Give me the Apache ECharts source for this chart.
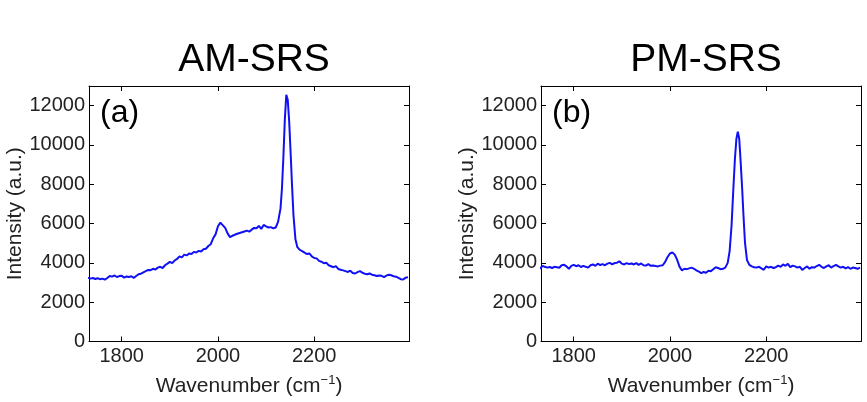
<!DOCTYPE html>
<html>
<head>
<meta charset="utf-8">
<script src="https://cdn.jsdelivr.net/npm/echarts@6/dist/echarts.min.js"></script>
<style>
html, body { margin: 0; padding: 0; background: #fff; }
#chart { width: 867px; height: 402px; }
</style>
</head>
<body>
<div id="chart"></div>
<script>
var panelTitles = ['AM-SRS', 'PM-SRS'];
var panelLetters = ['(a)', '(b)'];
var xTicks = [1800, 2000, 2200];

// [wavenumber, intensity]
var amSpectrum = [
    [1730, 3250], [1735, 3200], [1740, 3230], [1745, 3180], [1750, 3220], [1755, 3170], [1760, 3200],
    [1765, 3150], [1770, 3230], [1775, 3330], [1780, 3300], [1785, 3360], [1790, 3280], [1795, 3330],
    [1800, 3350], [1805, 3250], [1810, 3310], [1815, 3280], [1820, 3320], [1825, 3240], [1830, 3330],
    [1835, 3420], [1840, 3450], [1845, 3520], [1850, 3580], [1855, 3640], [1860, 3630], [1865, 3700],
    [1870, 3660], [1875, 3760], [1880, 3800], [1885, 3740], [1890, 3880], [1895, 3960], [1900, 4050],
    [1905, 3990], [1910, 4120], [1915, 4200], [1920, 4330], [1925, 4280], [1930, 4420], [1935, 4380],
    [1940, 4480], [1945, 4450], [1950, 4560], [1955, 4530], [1960, 4610], [1965, 4580], [1970, 4690],
    [1975, 4720], [1980, 4860], [1985, 4950], [1990, 5250], [1995, 5450], [2000, 5860], [2005, 6050],
    [2009, 6140], [2015, 5780], [2020, 5500], [2025, 5310], [2030, 5380], [2035, 5430], [2040, 5480],
    [2045, 5520], [2050, 5560], [2055, 5600], [2060, 5640], [2065, 5590], [2070, 5690], [2075, 5780],
    [2080, 5760], [2085, 5880], [2090, 5730], [2095, 5930], [2100, 5860], [2105, 5800], [2110, 5820],
    [2115, 5760], [2120, 5800], [2125, 6100], [2130, 6770], [2133, 7800], [2136, 9400], [2139, 11300],
    [2142, 12550], [2145, 12300], [2148, 11200], [2151, 9600], [2154, 7900], [2157, 6400], [2161, 5200],
    [2165, 4800], [2170, 4660], [2175, 4600], [2180, 4520], [2185, 4450], [2190, 4480], [2195, 4330],
    [2200, 4250], [2205, 4230], [2210, 4100], [2215, 4060], [2220, 3980], [2225, 4010], [2230, 3880],
    [2235, 3830], [2240, 3780], [2245, 3840], [2250, 3690], [2255, 3650], [2260, 3620], [2265, 3580],
    [2270, 3540], [2275, 3600], [2280, 3490], [2285, 3460], [2290, 3530], [2295, 3580], [2300, 3500],
    [2305, 3450], [2310, 3420], [2315, 3460], [2320, 3400], [2325, 3370], [2330, 3330], [2335, 3360],
    [2340, 3340], [2345, 3280], [2350, 3350], [2355, 3400], [2360, 3370], [2365, 3320], [2370, 3300],
    [2375, 3240], [2380, 3170], [2385, 3150], [2390, 3250], [2395, 3270]
];

var pmSpectrum = [
    [1730, 3700], [1735, 3850], [1740, 3800], [1745, 3760], [1750, 3790], [1755, 3740], [1760, 3800],
    [1765, 3780], [1770, 3750], [1775, 3880], [1780, 3900], [1785, 3820], [1790, 3700], [1795, 3850],
    [1800, 3900], [1805, 3830], [1810, 3880], [1815, 3790], [1820, 3850], [1825, 3800], [1830, 3760],
    [1835, 3880], [1840, 3920], [1845, 3850], [1850, 3960], [1855, 3890], [1860, 3940], [1865, 3880],
    [1870, 3960], [1875, 4000], [1880, 3930], [1885, 3990], [1890, 4010], [1895, 4080], [1900, 3960],
    [1905, 3920], [1910, 3990], [1915, 3940], [1920, 3970], [1925, 3920], [1930, 3990], [1935, 3900],
    [1940, 3970], [1945, 3880], [1950, 3860], [1955, 3940], [1960, 3850], [1965, 3870], [1970, 3840],
    [1975, 3820], [1980, 3860], [1985, 3880], [1990, 4050], [1995, 4300], [2000, 4480], [2005, 4530],
    [2010, 4420], [2015, 4150], [2020, 3800], [2025, 3620], [2030, 3700], [2035, 3680], [2040, 3720],
    [2045, 3760], [2050, 3700], [2055, 3620], [2060, 3560], [2065, 3480], [2070, 3540], [2075, 3500],
    [2080, 3600], [2085, 3580], [2090, 3680], [2095, 3780], [2100, 3740], [2105, 3680], [2110, 3700],
    [2115, 3760], [2120, 4000], [2124, 4600], [2128, 5900], [2132, 7900], [2135, 9300], [2138, 10300],
    [2141, 10670], [2144, 10300], [2147, 9100], [2150, 7800], [2153, 6300], [2156, 5000], [2160, 4150],
    [2165, 3900], [2170, 3820], [2175, 3780], [2180, 3760], [2185, 3800], [2190, 3720], [2195, 3650],
    [2200, 3820], [2205, 3760], [2210, 3800], [2215, 3740], [2220, 3780], [2225, 3860], [2230, 3800],
    [2235, 3920], [2240, 3850], [2245, 3950], [2250, 3780], [2255, 3860], [2260, 3820], [2265, 3760],
    [2270, 3800], [2275, 3640], [2280, 3740], [2285, 3820], [2290, 3700], [2295, 3780], [2300, 3760],
    [2305, 3840], [2310, 3900], [2315, 3800], [2320, 3740], [2325, 3820], [2330, 3880], [2335, 3760],
    [2340, 3840], [2345, 3900], [2350, 3820], [2355, 3760], [2360, 3800], [2365, 3720], [2370, 3780],
    [2375, 3700], [2380, 3760], [2385, 3740], [2390, 3700], [2395, 3760]
];

var spectra = [amSpectrum, pmSpectrum];
var fontName = '"Liberation Sans", Arial, Helvetica, sans-serif';
var gridLefts = [89, 541];
var gridTop = 86;
var gridWidth = 320;
var gridHeight = 263;

var grids = [];
var xAxes = [];
var yAxes = [];
var series = [];
var titles = [];

// plain numbers, no thousands separator
function plainNumber(v) {
    return String(v);
}

for (var i = 0; i < 2; i++) {
    grids.push({ left: gridLefts[i], top: gridTop, width: gridWidth, height: gridHeight });

    titles.push({
        text: panelTitles[i],
        left: gridLefts[i] + gridWidth / 2,
        top: 36,
        textAlign: 'center',
        textStyle: { fontFamily: fontName, fontSize: 39, fontWeight: 'normal', color: '#000' }
    });
    titles.push({
        text: panelLetters[i],
        left: gridLefts[i] + 6,
        top: 92,
        textStyle: { fontFamily: fontName, fontSize: 32, fontWeight: 'normal', color: '#000' }
    });

    // bottom axis with labels
    xAxes.push({
        gridIndex: i,
        type: 'value',
        min: 1732,
        max: 2397,
        position: 'bottom',
        axisLine: { show: true, onZero: false, lineStyle: { color: '#000', width: 1 } },
        axisTick: { show: true, inside: true, length: 5, customValues: xTicks, lineStyle: { color: '#000' } },
        axisLabel: { customValues: xTicks, formatter: plainNumber, color: '#222', fontSize: 20, margin: 5, fontFamily: fontName },
        splitLine: { show: false },
        name: 'Wavenumber (cm{sup|\u22121})',
        nameLocation: 'middle',
        nameGap: 32,
        nameTextStyle: {
            fontFamily: fontName,
            fontSize: 21,
            color: '#222',
            rich: {
                sup: { fontFamily: fontName, fontSize: 13, color: '#222', verticalAlign: 'bottom', padding: [0, 0, 13, 0] }
            }
        }
    });
    // top axis, ticks only
    xAxes.push({
        gridIndex: i,
        type: 'value',
        min: 1732,
        max: 2397,
        position: 'top',
        axisLine: { show: true, onZero: false, lineStyle: { color: '#000', width: 1 } },
        axisTick: { show: true, inside: true, length: 5, customValues: xTicks, lineStyle: { color: '#000' } },
        axisLabel: { show: false },
        splitLine: { show: false }
    });

    yAxes.push({
        gridIndex: i,
        type: 'value',
        min: 0,
        max: 13000,
        interval: 2000,
        position: 'left',
        axisLine: { show: true, lineStyle: { color: '#000', width: 1 } },
        axisTick: { show: true, inside: true, length: 5, lineStyle: { color: '#000' } },
        axisLabel: { showMaxLabel: false, formatter: plainNumber, color: '#222', fontSize: 20, margin: 4, fontFamily: fontName },
        splitLine: { show: false },
        name: 'Intensity (a.u.)',
        nameLocation: 'middle',
        nameGap: 63,
        nameTextStyle: { fontFamily: fontName, fontSize: 21, color: '#222' }
    });
    yAxes.push({
        gridIndex: i,
        type: 'value',
        min: 0,
        max: 13000,
        interval: 2000,
        position: 'right',
        axisLine: { show: true, lineStyle: { color: '#000', width: 1 } },
        axisTick: { show: true, inside: true, length: 5, lineStyle: { color: '#000' } },
        axisLabel: { show: false },
        splitLine: { show: false }
    });

    series.push({
        type: 'line',
        xAxisIndex: i * 2,
        yAxisIndex: i * 2,
        data: spectra[i],
        showSymbol: false,
        symbol: 'none',
        clip: true,
        lineStyle: { color: '#1010f5', width: 2 }
    });
}

var chart = echarts.init(document.getElementById('chart'));
chart.setOption({
    animation: false,
    backgroundColor: '#fff',
    title: titles,
    grid: grids,
    xAxis: xAxes,
    yAxis: yAxes,
    series: series
});
</script>
</body>
</html>
